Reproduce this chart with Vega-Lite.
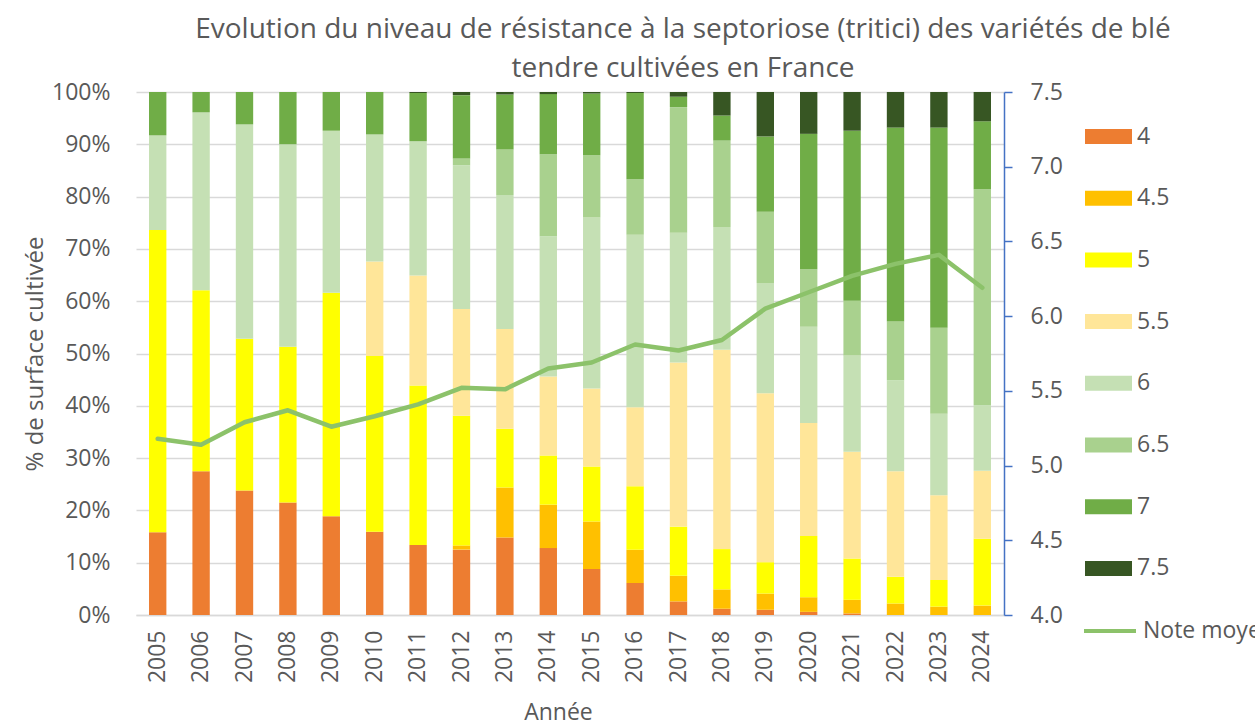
{
  "$schema": "https://vega.github.io/schema/vega-lite/v6.json",
  "width": 868,
  "height": 523,
  "autosize": {"type": "none"},
  "padding": {"left": 136, "top": 92, "right": 251, "bottom": 113},
  "background": "white",
  "title": {
    "text": ["Evolution du niveau de résistance à la septoriose (tritici) des variétés de blé", "tendre cultivées en France"],
    "font": "Open Sans",
    "fontSize": 28,
    "fontWeight": "normal",
    "color": "#595959",
    "anchor": "middle",
    "frame": "group",
    "dx": 113,
    "offset": -2,
    "lineHeight": 39
  },
  "datasets": {
    "bars": [
      {"year": 2005, "cat": "4", "pct": 15.8}, {"year": 2005, "cat": "5", "pct": 57.8}, {"year": 2005, "cat": "6", "pct": 18.1}, {"year": 2005, "cat": "7", "pct": 8.3},
      {"year": 2006, "cat": "4", "pct": 27.5}, {"year": 2006, "cat": "5", "pct": 34.6}, {"year": 2006, "cat": "6", "pct": 34.0}, {"year": 2006, "cat": "7", "pct": 3.9},
      {"year": 2007, "cat": "4", "pct": 23.8}, {"year": 2007, "cat": "5", "pct": 29.0}, {"year": 2007, "cat": "6", "pct": 41.0}, {"year": 2007, "cat": "7", "pct": 6.2},
      {"year": 2008, "cat": "4", "pct": 21.5}, {"year": 2008, "cat": "5", "pct": 29.8}, {"year": 2008, "cat": "6", "pct": 38.7}, {"year": 2008, "cat": "7", "pct": 10.0},
      {"year": 2009, "cat": "4", "pct": 18.9}, {"year": 2009, "cat": "5", "pct": 42.7}, {"year": 2009, "cat": "6", "pct": 31.0}, {"year": 2009, "cat": "7", "pct": 7.4},
      {"year": 2010, "cat": "4", "pct": 15.9}, {"year": 2010, "cat": "5", "pct": 33.6}, {"year": 2010, "cat": "5.5", "pct": 18.1}, {"year": 2010, "cat": "6", "pct": 24.3}, {"year": 2010, "cat": "7", "pct": 8.1},
      {"year": 2011, "cat": "4", "pct": 13.4}, {"year": 2011, "cat": "5", "pct": 30.5}, {"year": 2011, "cat": "5.5", "pct": 21.0}, {"year": 2011, "cat": "6", "pct": 25.7}, {"year": 2011, "cat": "7", "pct": 9.2}, {"year": 2011, "cat": "7.5", "pct": 0.2},
      {"year": 2012, "cat": "4", "pct": 12.5}, {"year": 2012, "cat": "4.5", "pct": 0.8}, {"year": 2012, "cat": "5", "pct": 24.8}, {"year": 2012, "cat": "5.5", "pct": 20.4}, {"year": 2012, "cat": "6", "pct": 27.5}, {"year": 2012, "cat": "6.5", "pct": 1.3}, {"year": 2012, "cat": "7", "pct": 12.1}, {"year": 2012, "cat": "7.5", "pct": 0.6},
      {"year": 2013, "cat": "4", "pct": 14.8}, {"year": 2013, "cat": "4.5", "pct": 9.6}, {"year": 2013, "cat": "5", "pct": 11.2}, {"year": 2013, "cat": "5.5", "pct": 19.1}, {"year": 2013, "cat": "6", "pct": 25.6}, {"year": 2013, "cat": "6.5", "pct": 8.7}, {"year": 2013, "cat": "7", "pct": 10.5}, {"year": 2013, "cat": "7.5", "pct": 0.5},
      {"year": 2014, "cat": "4", "pct": 12.8}, {"year": 2014, "cat": "4.5", "pct": 8.3}, {"year": 2014, "cat": "5", "pct": 9.4}, {"year": 2014, "cat": "5.5", "pct": 15.1}, {"year": 2014, "cat": "6", "pct": 26.8}, {"year": 2014, "cat": "6.5", "pct": 15.7}, {"year": 2014, "cat": "7", "pct": 11.5}, {"year": 2014, "cat": "7.5", "pct": 0.4},
      {"year": 2015, "cat": "4", "pct": 8.8}, {"year": 2015, "cat": "4.5", "pct": 9.1}, {"year": 2015, "cat": "5", "pct": 10.5}, {"year": 2015, "cat": "5.5", "pct": 14.9}, {"year": 2015, "cat": "6", "pct": 32.7}, {"year": 2015, "cat": "6.5", "pct": 11.9}, {"year": 2015, "cat": "7", "pct": 11.8}, {"year": 2015, "cat": "7.5", "pct": 0.3},
      {"year": 2016, "cat": "4", "pct": 6.1}, {"year": 2016, "cat": "4.5", "pct": 6.4}, {"year": 2016, "cat": "5", "pct": 12.1}, {"year": 2016, "cat": "5.5", "pct": 15.1}, {"year": 2016, "cat": "6", "pct": 33.0}, {"year": 2016, "cat": "6.5", "pct": 10.6}, {"year": 2016, "cat": "7", "pct": 16.5}, {"year": 2016, "cat": "7.5", "pct": 0.2},
      {"year": 2017, "cat": "4", "pct": 2.6}, {"year": 2017, "cat": "4.5", "pct": 4.9}, {"year": 2017, "cat": "5", "pct": 9.4}, {"year": 2017, "cat": "5.5", "pct": 31.4}, {"year": 2017, "cat": "6", "pct": 24.8}, {"year": 2017, "cat": "6.5", "pct": 24.0}, {"year": 2017, "cat": "7", "pct": 2.0}, {"year": 2017, "cat": "7.5", "pct": 0.9},
      {"year": 2018, "cat": "4", "pct": 1.2}, {"year": 2018, "cat": "4.5", "pct": 3.7}, {"year": 2018, "cat": "5", "pct": 7.7}, {"year": 2018, "cat": "5.5", "pct": 38.1}, {"year": 2018, "cat": "6", "pct": 23.5}, {"year": 2018, "cat": "6.5", "pct": 16.5}, {"year": 2018, "cat": "7", "pct": 4.8}, {"year": 2018, "cat": "7.5", "pct": 4.5},
      {"year": 2019, "cat": "4", "pct": 1.0}, {"year": 2019, "cat": "4.5", "pct": 3.1}, {"year": 2019, "cat": "5", "pct": 6.0}, {"year": 2019, "cat": "5.5", "pct": 32.3}, {"year": 2019, "cat": "6", "pct": 21.1}, {"year": 2019, "cat": "6.5", "pct": 13.6}, {"year": 2019, "cat": "7", "pct": 14.4}, {"year": 2019, "cat": "7.5", "pct": 8.5},
      {"year": 2020, "cat": "4", "pct": 0.6}, {"year": 2020, "cat": "4.5", "pct": 2.8}, {"year": 2020, "cat": "5", "pct": 11.7}, {"year": 2020, "cat": "5.5", "pct": 21.6}, {"year": 2020, "cat": "6", "pct": 18.4}, {"year": 2020, "cat": "6.5", "pct": 11.0}, {"year": 2020, "cat": "7", "pct": 25.9}, {"year": 2020, "cat": "7.5", "pct": 8.0},
      {"year": 2021, "cat": "4", "pct": 0.3}, {"year": 2021, "cat": "4.5", "pct": 2.6}, {"year": 2021, "cat": "5", "pct": 7.9}, {"year": 2021, "cat": "5.5", "pct": 20.4}, {"year": 2021, "cat": "6", "pct": 18.4}, {"year": 2021, "cat": "6.5", "pct": 10.5}, {"year": 2021, "cat": "7", "pct": 32.5}, {"year": 2021, "cat": "7.5", "pct": 7.4},
      {"year": 2022, "cat": "4.5", "pct": 2.2}, {"year": 2022, "cat": "5", "pct": 5.1}, {"year": 2022, "cat": "5.5", "pct": 20.2}, {"year": 2022, "cat": "6", "pct": 17.4}, {"year": 2022, "cat": "6.5", "pct": 11.2}, {"year": 2022, "cat": "7", "pct": 37.1}, {"year": 2022, "cat": "7.5", "pct": 6.8},
      {"year": 2023, "cat": "4.5", "pct": 1.6}, {"year": 2023, "cat": "5", "pct": 5.1}, {"year": 2023, "cat": "5.5", "pct": 16.2}, {"year": 2023, "cat": "6", "pct": 15.6}, {"year": 2023, "cat": "6.5", "pct": 16.4}, {"year": 2023, "cat": "7", "pct": 38.3}, {"year": 2023, "cat": "7.5", "pct": 6.8},
      {"year": 2024, "cat": "4.5", "pct": 1.8}, {"year": 2024, "cat": "5", "pct": 12.8}, {"year": 2024, "cat": "5.5", "pct": 13.0}, {"year": 2024, "cat": "6", "pct": 12.5}, {"year": 2024, "cat": "6.5", "pct": 41.3}, {"year": 2024, "cat": "7", "pct": 13.0}, {"year": 2024, "cat": "7.5", "pct": 5.6}
    ],
    "note": [
      {"year": 2005, "note": 5.18}, {"year": 2006, "note": 5.14}, {"year": 2007, "note": 5.29}, {"year": 2008, "note": 5.37},
      {"year": 2009, "note": 5.26}, {"year": 2010, "note": 5.33}, {"year": 2011, "note": 5.41}, {"year": 2012, "note": 5.52},
      {"year": 2013, "note": 5.51}, {"year": 2014, "note": 5.65}, {"year": 2015, "note": 5.69}, {"year": 2016, "note": 5.81},
      {"year": 2017, "note": 5.77}, {"year": 2018, "note": 5.84}, {"year": 2019, "note": 6.05}, {"year": 2020, "note": 6.16},
      {"year": 2021, "note": 6.27}, {"year": 2022, "note": 6.35}, {"year": 2023, "note": 6.41}, {"year": 2024, "note": 6.19}
    ]
  },
  "encoding": {
    "x": {
      "field": "year",
      "type": "ordinal",
      "scale": {"paddingInner": 0.6, "paddingOuter": 0.3},
      "axis": {
        "title": "Année",
        "titleFont": "Open Sans",
        "titleFontSize": 23,
        "titleFontWeight": "normal",
        "titleColor": "#595959",
        "titleX": 422,
        "titleY": 97,
        "titleBaseline": "middle",
        "labelFont": "Open Sans",
        "labelFontSize": 23,
        "labelColor": "#595959",
        "labelAngle": -90,
        "labelAlign": "right",
        "labelBaseline": "middle",
        "labelPadding": 15,
        "ticks": false,
        "domainColor": "#D9D9D9",
        "domainWidth": 1.3
      }
    }
  },
  "layer": [
    {
      "data": {"name": "bars"},
      "mark": {"type": "bar"},
      "encoding": {
        "y": {
          "field": "pct",
          "type": "quantitative",
          "aggregate": "sum",
          "stack": "normalize",
          "axis": {
            "title": "% de surface cultivée",
            "titleFont": "Open Sans",
            "titleFontSize": 24,
            "titleFontWeight": "normal",
            "titleColor": "#595959",
            "titleX": -101,
            "titleY": 261.5,
            "titleAngle": -90,
            "titleAlign": "center",
            "titleBaseline": "middle",
            "values": [0, 0.1, 0.2, 0.3, 0.4, 0.5, 0.6, 0.7, 0.8, 0.9, 1],
            "format": ".0%",
            "labelFont": "Open Sans",
            "labelFontSize": 23,
            "labelColor": "#595959",
            "labelPadding": 26,
            "ticks": false,
            "domain": false,
            "grid": true,
            "gridColor": "#D9D9D9",
            "gridWidth": 1.3
          }
        },
        "color": {
          "field": "cat",
          "type": "nominal",
          "scale": {
            "domain": ["4", "4.5", "5", "5.5", "6", "6.5", "7", "7.5"],
            "range": ["#ED7D31", "#FFC000", "#FFFF00", "#FFE699", "#C5E0B4", "#A9D18E", "#70AD47", "#375623"]
          },
          "legend": {
            "title": null,
            "orient": "none",
            "legendX": 949,
            "legendY": 21,
            "direction": "vertical",
            "symbolType": "M-1,-0.32H1V0.32H-1Z",
            "symbolSize": 2209,
            "symbolStrokeWidth": 0,
            "symbolOpacity": 1,
            "labelFont": "Open Sans",
            "labelFontSize": 23,
            "labelColor": "#595959",
            "labelOffset": 5,
            "rowPadding": 25.7
          }
        },
        "order": {"field": "cat", "sort": "ascending"}
      }
    },
    {
      "data": {"name": "note"},
      "mark": {"type": "line", "strokeWidth": 4.5, "strokeJoin": "round", "strokeCap": "round"},
      "encoding": {
        "y": {
          "field": "note",
          "type": "quantitative",
          "scale": {"domain": [4, 7.5], "nice": false, "zero": false},
          "axis": {
            "orient": "right",
            "title": null,
            "values": [4, 4.5, 5, 5.5, 6, 6.5, 7, 7.5],
            "format": ".1f",
            "labelFont": "Open Sans",
            "labelFontSize": 23,
            "labelColor": "#595959",
            "labelPadding": 18,
            "tickSize": 8,
            "tickColor": "#4472C4",
            "tickWidth": 1.5,
            "domainColor": "#4472C4",
            "domainWidth": 1.5,
            "grid": false
          }
        },
        "color": {
          "datum": "Note moyenne",
          "type": "nominal",
          "scale": {"range": ["#8CC26A"]},
          "legend": {
            "title": null,
            "orient": "none",
            "legendX": 946,
            "legendY": 511,
            "symbolType": "stroke",
            "symbolSize": 2704,
            "symbolStrokeWidth": 4,
            "labelFont": "Open Sans",
            "labelFontSize": 23,
            "labelColor": "#595959",
            "labelOffset": 5
          }
        }
      }
    }
  ],
  "resolve": {"scale": {"y": "independent", "color": "independent"}},
  "config": {"view": {"stroke": null}}
}
